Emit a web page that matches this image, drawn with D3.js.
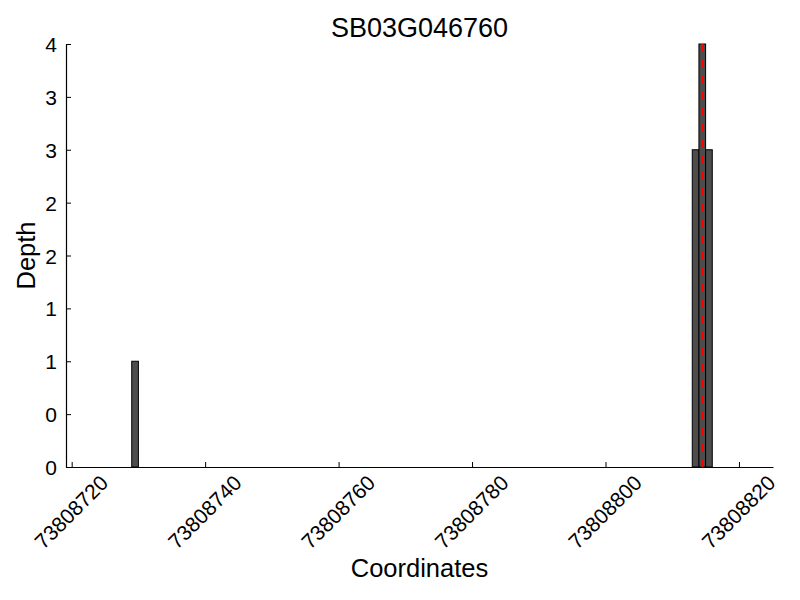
<!DOCTYPE html>
<html>
<head>
<meta charset="utf-8">
<script src="https://cdn.jsdelivr.net/npm/d3@7"></script>
<style>
  html, body { margin: 0; padding: 0; background: #fff; }
  svg { display: block; font-family: "Liberation Sans", Arial, sans-serif; }
</style>
</head>
<body>
<svg id="chart" width="800" height="600"></svg>
<script>
// ---- data ----
const title = "SB03G046760";
const xLabel = "Coordinates";
const yLabel = "Depth";
const positions = [73808729, 73808813, 73808814, 73808815];
const depths = [1, 3, 4, 3];
const markerPos = 73808814.5;
const xTicks = [73808720, 73808740, 73808760, 73808780, 73808800, 73808820];
const yTicks = [0, 0.5, 1, 1.5, 2, 2.5, 3, 3.5, 4];
const xDomain = [73808719.15, 73808825.1];
const yDomain = [0, 4];

// ---- layout ----
const margin = { left: 66, right: 27, top: 44, bottom: 133 };
const W = 800, H = 600;
const svg = d3.select("#chart");
const innerW = W - margin.left - margin.right;
const innerH = H - margin.top - margin.bottom;
const g = svg.append("g").attr("transform", `translate(${margin.left},${margin.top})`);

const x = d3.scaleLinear().domain(xDomain).range([0, innerW]);
const y = d3.scaleLinear().domain(yDomain).range([innerH, 0]);

// bars
g.selectAll("rect.bar")
  .data(positions.map((p, i) => ({ p, v: depths[i] })))
  .enter().append("rect")
  .attr("class", "bar")
  .attr("x", d => x(d.p))
  .attr("width", d => x(d.p + 1) - x(d.p))
  .attr("y", d => y(d.v))
  .attr("height", d => y(0) - y(d.v))
  .attr("fill", "#4d4d4d")
  .attr("stroke", "#000")
  .attr("stroke-width", 1);

// red dashed marker
g.append("line")
  .attr("x1", x(markerPos)).attr("x2", x(markerPos))
  .attr("y1", y(yDomain[0])).attr("y2", y(yDomain[1]))
  .attr("stroke", "#ff0000")
  .attr("stroke-width", 2.5)
  .attr("stroke-dasharray", "7,9");

// axes
const xAxis = d3.axisBottom(x).tickValues(xTicks).tickSizeInner(-5).tickSizeOuter(0)
  .tickFormat(d3.format("d"));
const yAxis = d3.axisLeft(y).tickValues(yTicks).tickSizeInner(-5).tickSizeOuter(0)
  .tickFormat(d => String(Math.trunc(d)));

const gx = g.append("g").attr("transform", `translate(0,${innerH})`).call(xAxis);
const gy = g.append("g").call(yAxis);

[gx, gy].forEach(a => {
  a.select(".domain").attr("stroke", "#000").attr("stroke-width", 1.2);
  a.selectAll(".tick line").attr("stroke", "#000").attr("stroke-width", 1);
  a.selectAll("text").attr("fill", "#000").style("font-size", "21px")
    .style("font-family", "'Liberation Sans', Arial, sans-serif");
});

gx.selectAll(".tick text")
  .attr("text-anchor", "middle")
  .attr("dy", null)
  .attr("y", 0)
  .attr("dominant-baseline", "central")
  .attr("transform", "translate(-1,45) rotate(-45)");

gy.selectAll(".tick text")
  .attr("x", -9)
  .attr("dy", "0.36em");

// title
svg.append("text")
  .attr("x", margin.left + innerW / 2)
  .attr("y", 37)
  .attr("text-anchor", "middle")
  .style("font-size", "27px")
  .attr("fill", "#000")
  .text(title);

// x label
svg.append("text")
  .attr("x", margin.left + innerW / 2)
  .attr("y", 577)
  .attr("text-anchor", "middle")
  .style("font-size", "25.5px")
  .attr("fill", "#000")
  .text(xLabel);

// y label
svg.append("text")
  .attr("transform", `translate(35,${margin.top + innerH / 2}) rotate(-90)`)
  .attr("text-anchor", "middle")
  .style("font-size", "25.5px")
  .attr("fill", "#000")
  .text(yLabel);
</script>
</body>
</html>
